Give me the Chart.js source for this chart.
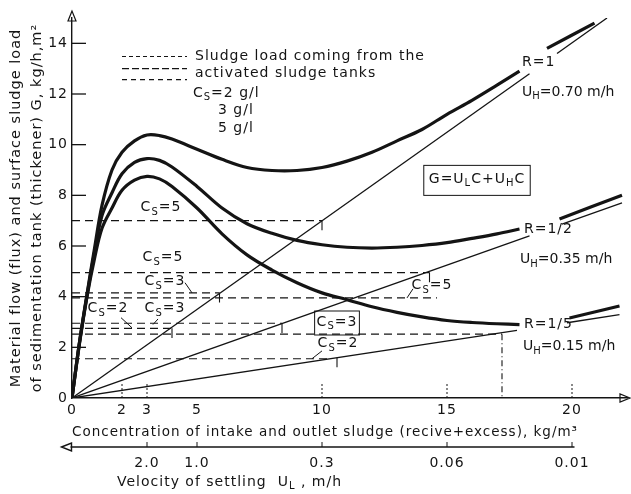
<!DOCTYPE html>
<html>
<head>
<meta charset="utf-8">
<script src="https://cdn.jsdelivr.net/npm/chart.js@4.4.0/dist/chart.umd.min.js"></script>
<style>
  html, body { margin: 0; padding: 0; background: #fff; }
  #wrap { width: 631px; height: 494px; }
</style>
</head>
<body>
<div id="wrap"><canvas id="fluxChart"></canvas></div>
<script>
// concentration C, kg/m3 and the three total flux curves G, kg/h,m2
const concGrid = [0, 0.3, 0.6, 0.9, 1.2, 1.6, 2, 2.5, 3, 3.5, 4, 5, 6, 7, 8, 9, 10, 11, 12, 13, 14, 15, 16, 17, 17.9];
const fluxR1 = [0, 2.2, 4.1, 5.9, 7.6, 9.0, 9.7, 10.15, 10.38, 10.36, 10.22, 9.82, 9.42, 9.1, 8.98, 8.98, 9.1, 9.35, 9.7, 10.15, 10.6, 11.2, 11.75, 12.35, 12.9];
const fluxR2 = [0, 2.2, 4.05, 5.75, 7.2, 8.1, 8.85, 9.3, 9.45, 9.38, 9.12, 8.35, 7.5, 6.88, 6.5, 6.22, 6.05, 5.95, 5.92, 5.95, 6.02, 6.13, 6.3, 6.48, 6.67];
const fluxR5 = [0, 2.15, 4.0, 5.5, 6.7, 7.5, 8.2, 8.6, 8.75, 8.65, 8.35, 7.5, 6.48, 5.65, 5.05, 4.55, 4.15, 3.88, 3.6, 3.38, 3.2, 3.06, 2.98, 2.93, 2.9];

// curve pieces continued past the R labels
const tailR1X = [19.0, 20.9], tailR1Y = [13.8, 14.8];
const tailR2X = [19.5, 22.0], tailR2Y = [7.07, 8.0];
const tailR5X = [19.9, 21.9], tailR5Y = [3.16, 3.63];

// underflow lines U_H*C
const uhR1X = [0, 18.3], uhR1Y = [0, 12.8];
const uhR1TailX = [19.4, 21.4], uhR1TailY = [13.6, 15.0];
const uhR2X = [0, 18.3], uhR2Y = [0, 6.4];
const uhR2TailX = [19.6, 22.0], uhR2TailY = [6.86, 7.7];
const uhR5X = [0, 17.8], uhR5Y = [0, 2.67];
const uhR5TailX = [19.8, 21.9], uhR5TailY = [2.97, 3.29];

// sludge loads from the activated sludge tanks (dashed)
const loadLevels = [7.0, 4.95, 4.15, 3.95, 2.95, 2.75, 2.52, 1.55];
const loadEnds = [10.0, 14.3, 5.9, 14.6, 8.4, 4.0, 17.2, 10.3];
const dropX = 17.2;

// small marks where loads meet the underflow lines
const markX = [10.0, 14.3, 5.9, 4.0, 8.4, 10.6];
const markY = [7.0, 4.95, 4.15, 2.75, 2.95, 1.59];

// axes
const yTicks = [0, 2, 4, 6, 8, 10, 12, 14];
const concTicks = [0, 2, 3, 5, 10, 15, 20];
const concMarks = [2, 3, 10, 15, 20];
const velocityPos = [3, 5, 10, 15, 20];
const velocityLabels = ['2.0', '1.0', '0.3', '0.06', '0.01'];

const ink = '#141414';
const FONT = '"DejaVu Sans", sans-serif';

const notes = [
    { text: 'C_{S}=5', x: 3.56, y: 7.52, align: 'center' },
    { text: 'C_{S}=5', x: 3.64, y: 5.54, align: 'center' },
    { text: 'C_{S}=3', x: 3.72, y: 4.59, align: 'center' },
    { text: 'C_{S}=2', x: 1.44, y: 3.52, align: 'center' },
    { text: 'C_{S}=3', x: 3.72, y: 3.52, align: 'center' },
    { text: 'C_{S}=5', x: 14.4, y: 4.43, align: 'center' },
    { text: 'C_{S}=3', x: 10.6, y: 3.0, align: 'center', box: true },
    { text: 'C_{S}=2', x: 10.64, y: 2.14, align: 'center' },
    { text: 'R=1', x: 18.0, y: 13.26, align: 'left' },
    { text: 'U_{H}=0.70 m/h', x: 18.0, y: 12.07, align: 'left', tight: true },
    { text: 'R=1/2', x: 18.08, y: 6.65, align: 'left' },
    { text: 'U_{H}=0.35 m/h', x: 17.92, y: 5.46, align: 'left', tight: true },
    { text: 'R=1/5', x: 18.08, y: 2.89, align: 'left' },
    { text: 'U_{H}=0.15 m/h', x: 18.04, y: 2.02, align: 'left', tight: true },
    { text: 'G=U_{L}C+U_{H}C', x: 16.2, y: 8.63, align: 'center', box: true, pad: 5 },
    { text: 'Sludge load coming from the', x: 4.92, y: 13.48, align: 'left' },
    { text: 'activated sludge tanks', x: 4.92, y: 12.82, align: 'left' },
    { text: 'C_{S}=2 g/l', x: 4.84, y: 12.03, align: 'left' },
    { text: '3 g/l', x: 5.84, y: 11.36, align: 'left' },
    { text: '5 g/l', x: 5.84, y: 10.65, align: 'left' }
];
const leaders = [
    [4.52, 4.55, 4.8, 4.15],
    [1.96, 3.17, 2.4, 2.77],
    [3.44, 3.12, 3.24, 2.9],
    [13.64, 4.31, 13.4, 3.95],
    [10.0, 1.86, 9.6, 1.55]
];
const legendRows = [
    { y: 13.48, dash: [4, 3] },
    { y: 13.0, dash: [7, 3] },
    { y: 12.57, dash: [5, 4] }
];

const zip = (xs, ys) => xs.map((x, i) => ({ x, y: ys[i] }));

const drawRich = (ctx, str, px, py, size, align) => {
    const segs = str.split(/(_\{[^}]*\})/).filter(s => s.length).map(s =>
        s.startsWith('_{') ? { t: s.slice(2, -1), sub: true } : { t: s, sub: false });
    let w = 0;
    segs.forEach(s => {
        ctx.font = `${s.sub ? Math.round(size * 0.68) : size}px ${FONT}`;
        s.w = ctx.measureText(s.t).width;
        w += s.w;
    });
    const left = align === 'center' ? px - w / 2 : px;
    let cx = left;
    ctx.textAlign = 'left';
    ctx.textBaseline = 'middle';
    segs.forEach(s => {
        ctx.font = `${s.sub ? Math.round(size * 0.68) : size}px ${FONT}`;
        ctx.fillText(s.t, cx, py + (s.sub ? size * 0.32 : 0));
        cx += s.w;
    });
    return { left, width: w };
};

const thick = (xs, ys) => ({
    data: zip(xs, ys), borderColor: ink, borderWidth: 3.2, pointRadius: 0,
    showLine: true, tension: 0.35, xAxisID: 'x', yAxisID: 'y'
});
const thin = (xs, ys, extra) => Object.assign({
    data: zip(xs, ys), borderColor: ink, borderWidth: 1.3, pointRadius: 0,
    showLine: true, xAxisID: 'x', yAxisID: 'y'
}, extra || {});

const datasets = [
    thick(concGrid, fluxR1), thick(concGrid, fluxR2), thick(concGrid, fluxR5),
    thick(tailR1X, tailR1Y), thick(tailR2X, tailR2Y), thick(tailR5X, tailR5Y),
    thin(uhR1X, uhR1Y), thin(uhR1TailX, uhR1TailY),
    thin(uhR2X, uhR2Y), thin(uhR2TailX, uhR2TailY),
    thin(uhR5X, uhR5Y), thin(uhR5TailX, uhR5TailY)
];
loadLevels.forEach((lv, i) => {
    datasets.push(thin([0, loadEnds[i]], [lv, lv], { borderWidth: 1.2, borderDash: [8, 5] }));
});
datasets.push(thin([dropX, dropX], [loadLevels[6], 0], { borderWidth: 1.1, borderDash: [6, 3, 1, 3] }));
markX.forEach((mx, i) => {
    datasets.push(thin([mx, mx], [markY[i], markY[i] - 0.38], { borderWidth: 1.1 }));
});

// wider lettering, like the stencil text of the original
const spacing = {
    id: 'spacing',
    beforeDraw(chart) { chart.ctx.letterSpacing = '1px'; }
};

const overlay = {
    id: 'overlay',
    afterDraw(chart) {
        const { ctx, scales: { x, y, x2 } } = chart;
        const px = v => x.getPixelForValue(v);
        const py = v => y.getPixelForValue(v);
        ctx.save();
        ctx.letterSpacing = '1px';
        ctx.strokeStyle = ink;
        ctx.fillStyle = ink;

        // y ticks pointing into the plot
        ctx.lineWidth = 1.3;
        yTicks.filter(v => v > 0).forEach(v => {
            ctx.beginPath();
            ctx.moveTo(x.left, py(v));
            ctx.lineTo(x.left + 14, py(v));
            ctx.stroke();
        });

        // dotted marks on the concentration axis
        ctx.lineWidth = 1;
        ctx.setLineDash([2, 2]);
        concMarks.forEach(v => {
            ctx.beginPath();
            ctx.moveTo(px(v), y.bottom);
            ctx.lineTo(px(v), y.bottom - 14);
            ctx.stroke();
        });
        ctx.setLineDash([]);

        // arrows on the axes
        ctx.lineWidth = 1.2;
        ctx.beginPath();
        ctx.moveTo(x.left, y.top - 7);
        ctx.lineTo(x.left - 4, y.top + 3);
        ctx.lineTo(x.left + 4, y.top + 3);
        ctx.closePath();
        ctx.stroke();
        ctx.beginPath();
        ctx.moveTo(x.right + 3, y.bottom);
        ctx.lineTo(x.right - 7, y.bottom - 4);
        ctx.lineTo(x.right - 7, y.bottom + 4);
        ctx.closePath();
        ctx.stroke();

        // velocity axis line with left arrow
        const vy = x2.top + 3;
        const vl = px(-0.3), vr = px(20.1);
        ctx.lineWidth = 1.4;
        ctx.beginPath();
        ctx.moveTo(vl + 6, vy);
        ctx.lineTo(vr, vy);
        ctx.stroke();
        ctx.beginPath();
        ctx.moveTo(vl - 3, vy);
        ctx.lineTo(vl + 7, vy - 4);
        ctx.lineTo(vl + 7, vy + 4);
        ctx.closePath();
        ctx.stroke();
        ctx.lineWidth = 1;
        velocityPos.forEach(v => {
            ctx.beginPath();
            ctx.moveTo(px(v), vy);
            ctx.lineTo(px(v), vy - 5);
            ctx.stroke();
        });
        drawRich(ctx, 'Velocity of settling  U_{L} , m/h', px(1.8), x2.bottom - 10, 14, 'left');

        // legend dashes
        ctx.lineWidth = 1.2;
        legendRows.forEach(r => {
            ctx.setLineDash(r.dash);
            ctx.beginPath();
            ctx.moveTo(px(2.0), py(r.y));
            ctx.lineTo(px(4.6), py(r.y));
            ctx.stroke();
        });
        ctx.setLineDash([]);

        // leaders
        ctx.lineWidth = 1;
        leaders.forEach(l => {
            ctx.beginPath();
            ctx.moveTo(px(l[0]), py(l[1]));
            ctx.lineTo(px(l[2]), py(l[3]));
            ctx.stroke();
        });

        // text notes
        notes.forEach(n => {
            const cy = py(n.y);
            ctx.letterSpacing = n.tight ? '0px' : '1px';
            const r = drawRich(ctx, n.text, px(n.x), cy, 14, n.align);
            if (n.box) {
                const p = n.pad || 2;
                ctx.lineWidth = 1;
                ctx.strokeRect(r.left - p, cy - 9 - p, r.width + 2 * p, 20 + 2 * p);
            }
        });
        ctx.restore();
    }
};

const tickFont = { family: FONT, size: 14 };

new Chart(document.getElementById('fluxChart'), {
    type: 'scatter',
    data: { datasets },
    options: {
        responsive: true,
        maintainAspectRatio: false,
        animation: false,
        layout: { padding: { left: 4, right: 4, top: 18, bottom: 2 } },
        plugins: { legend: { display: false }, tooltip: { enabled: false } },
        scales: {
            x: {
                type: 'linear', position: 'bottom', min: 0, max: 22.2,
                border: { display: true, color: ink, width: 1.4 },
                grid: { display: false, drawTicks: false },
                afterBuildTicks: s => { s.ticks = concTicks.map(v => ({ value: v })); },
                afterFit: s => { s.height = 46; },
                ticks: { color: ink, font: tickFont, padding: 4, autoSkip: false, maxRotation: 0, callback: v => String(v) },
                title: {
                    display: true, align: 'start', color: ink, font: { family: FONT, size: 13.5 },
                    text: 'Concentration of intake and outlet sludge (recive+excess), kg/m³',
                    padding: { top: 0, bottom: 3 }
                }
            },
            x2: {
                type: 'linear', position: 'bottom', min: 0, max: 22.2,
                border: { display: false },
                grid: { display: false, drawTicks: false },
                afterBuildTicks: s => { s.ticks = velocityPos.map(v => ({ value: v })); },
                afterFit: s => { s.height = 48; },
                ticks: {
                    color: ink, font: tickFont, padding: 11, autoSkip: false, maxRotation: 0,
                    callback: v => velocityLabels[velocityPos.indexOf(v)]
                }
            },
            y: {
                type: 'linear', position: 'left', min: 0, max: 15,
                border: { display: true, color: ink, width: 1.4 },
                grid: { display: false, drawTicks: false },
                afterBuildTicks: s => { s.ticks = yTicks.map(v => ({ value: v })); },
                afterFit: s => { s.width = 68; },
                ticks: { color: ink, font: tickFont, padding: 4, callback: v => String(v) },
                title: {
                    display: true, color: ink,
                    font: { family: FONT, size: 14.5, lineHeight: 1.5 },
                    text: ['Material flow (flux) and surface sludge load', 'of sedimentation tank (thickener) G, kg/h,m²'],
                    padding: { top: 1, bottom: 0 }
                }
            }
        }
    },
    plugins: [spacing, overlay]
});
</script>
</body>
</html>
